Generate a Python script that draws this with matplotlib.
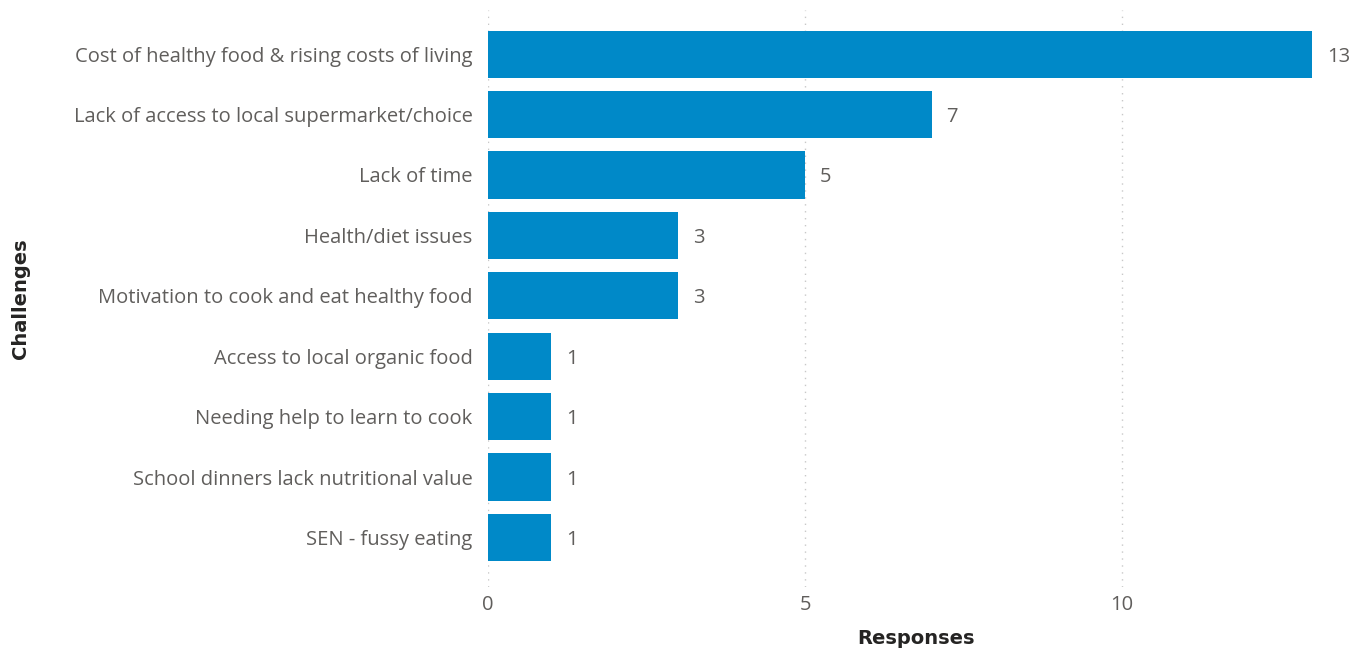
import matplotlib.pyplot as plt

# data
challenges = [
    'Cost of healthy food & rising costs of living',
    'Lack of access to local supermarket/choice',
    'Lack of time',
    'Health/diet issues',
    'Motivation to cook and eat healthy food',
    'Access to local organic food',
    'Needing help to learn to cook',
    'School dinners lack nutritional value',
    'SEN - fussy eating',
]
responses = [13, 7, 5, 3, 3, 1, 1, 1, 1]
x_ticks = [0, 5, 10]

bar_color = '#0089C8'
label_color = '#605E5C'
title_color = '#252423'
lbl_font = 'Open Sans'
lbl_size = 14.5

fig = plt.figure(figsize=(13.49, 6.52), dpi=100)
ax = fig.add_axes([488 / 1349, 65 / 652, 856 / 1349, 577 / 652])

pos = list(range(len(challenges)))
ax.barh(pos, responses, height=0.78, color=bar_color, zorder=2)

ax.set_ylim(8.82, -0.73)
ax.set_xlim(0, 13.5)
ax.set_yticks(pos)
ax.set_yticklabels(challenges, fontfamily=lbl_font, fontsize=lbl_size, color=label_color)
ax.set_xticks(x_ticks)
ax.set_xticklabels([str(t) for t in x_ticks], fontfamily=lbl_font, fontsize=lbl_size, color=label_color)
ax.tick_params(axis='y', length=0, pad=11)
ax.tick_params(axis='x', length=0, pad=6)

ax.grid(axis='x', linestyle=(0, (1, 4)), color='#C8C8C8', linewidth=1, zorder=0)
for s in ax.spines.values():
    s.set_visible(False)

for p, v in zip(pos, responses):
    ax.text(v + 0.23, p, str(v), va='center_baseline', ha='left',
            fontfamily=lbl_font, fontsize=lbl_size, color=label_color)

ax.set_xlabel('Responses', fontfamily='DejaVu Sans', fontweight='semibold', fontsize=14,
              color=title_color, labelpad=10)
ax.set_ylabel('Challenges', fontfamily='DejaVu Sans', fontweight='semibold', fontsize=14,
              color=title_color)
ax.yaxis.set_label_coords(-458 / 856, 0.5)

fig.savefig('out.png', dpi=100)
